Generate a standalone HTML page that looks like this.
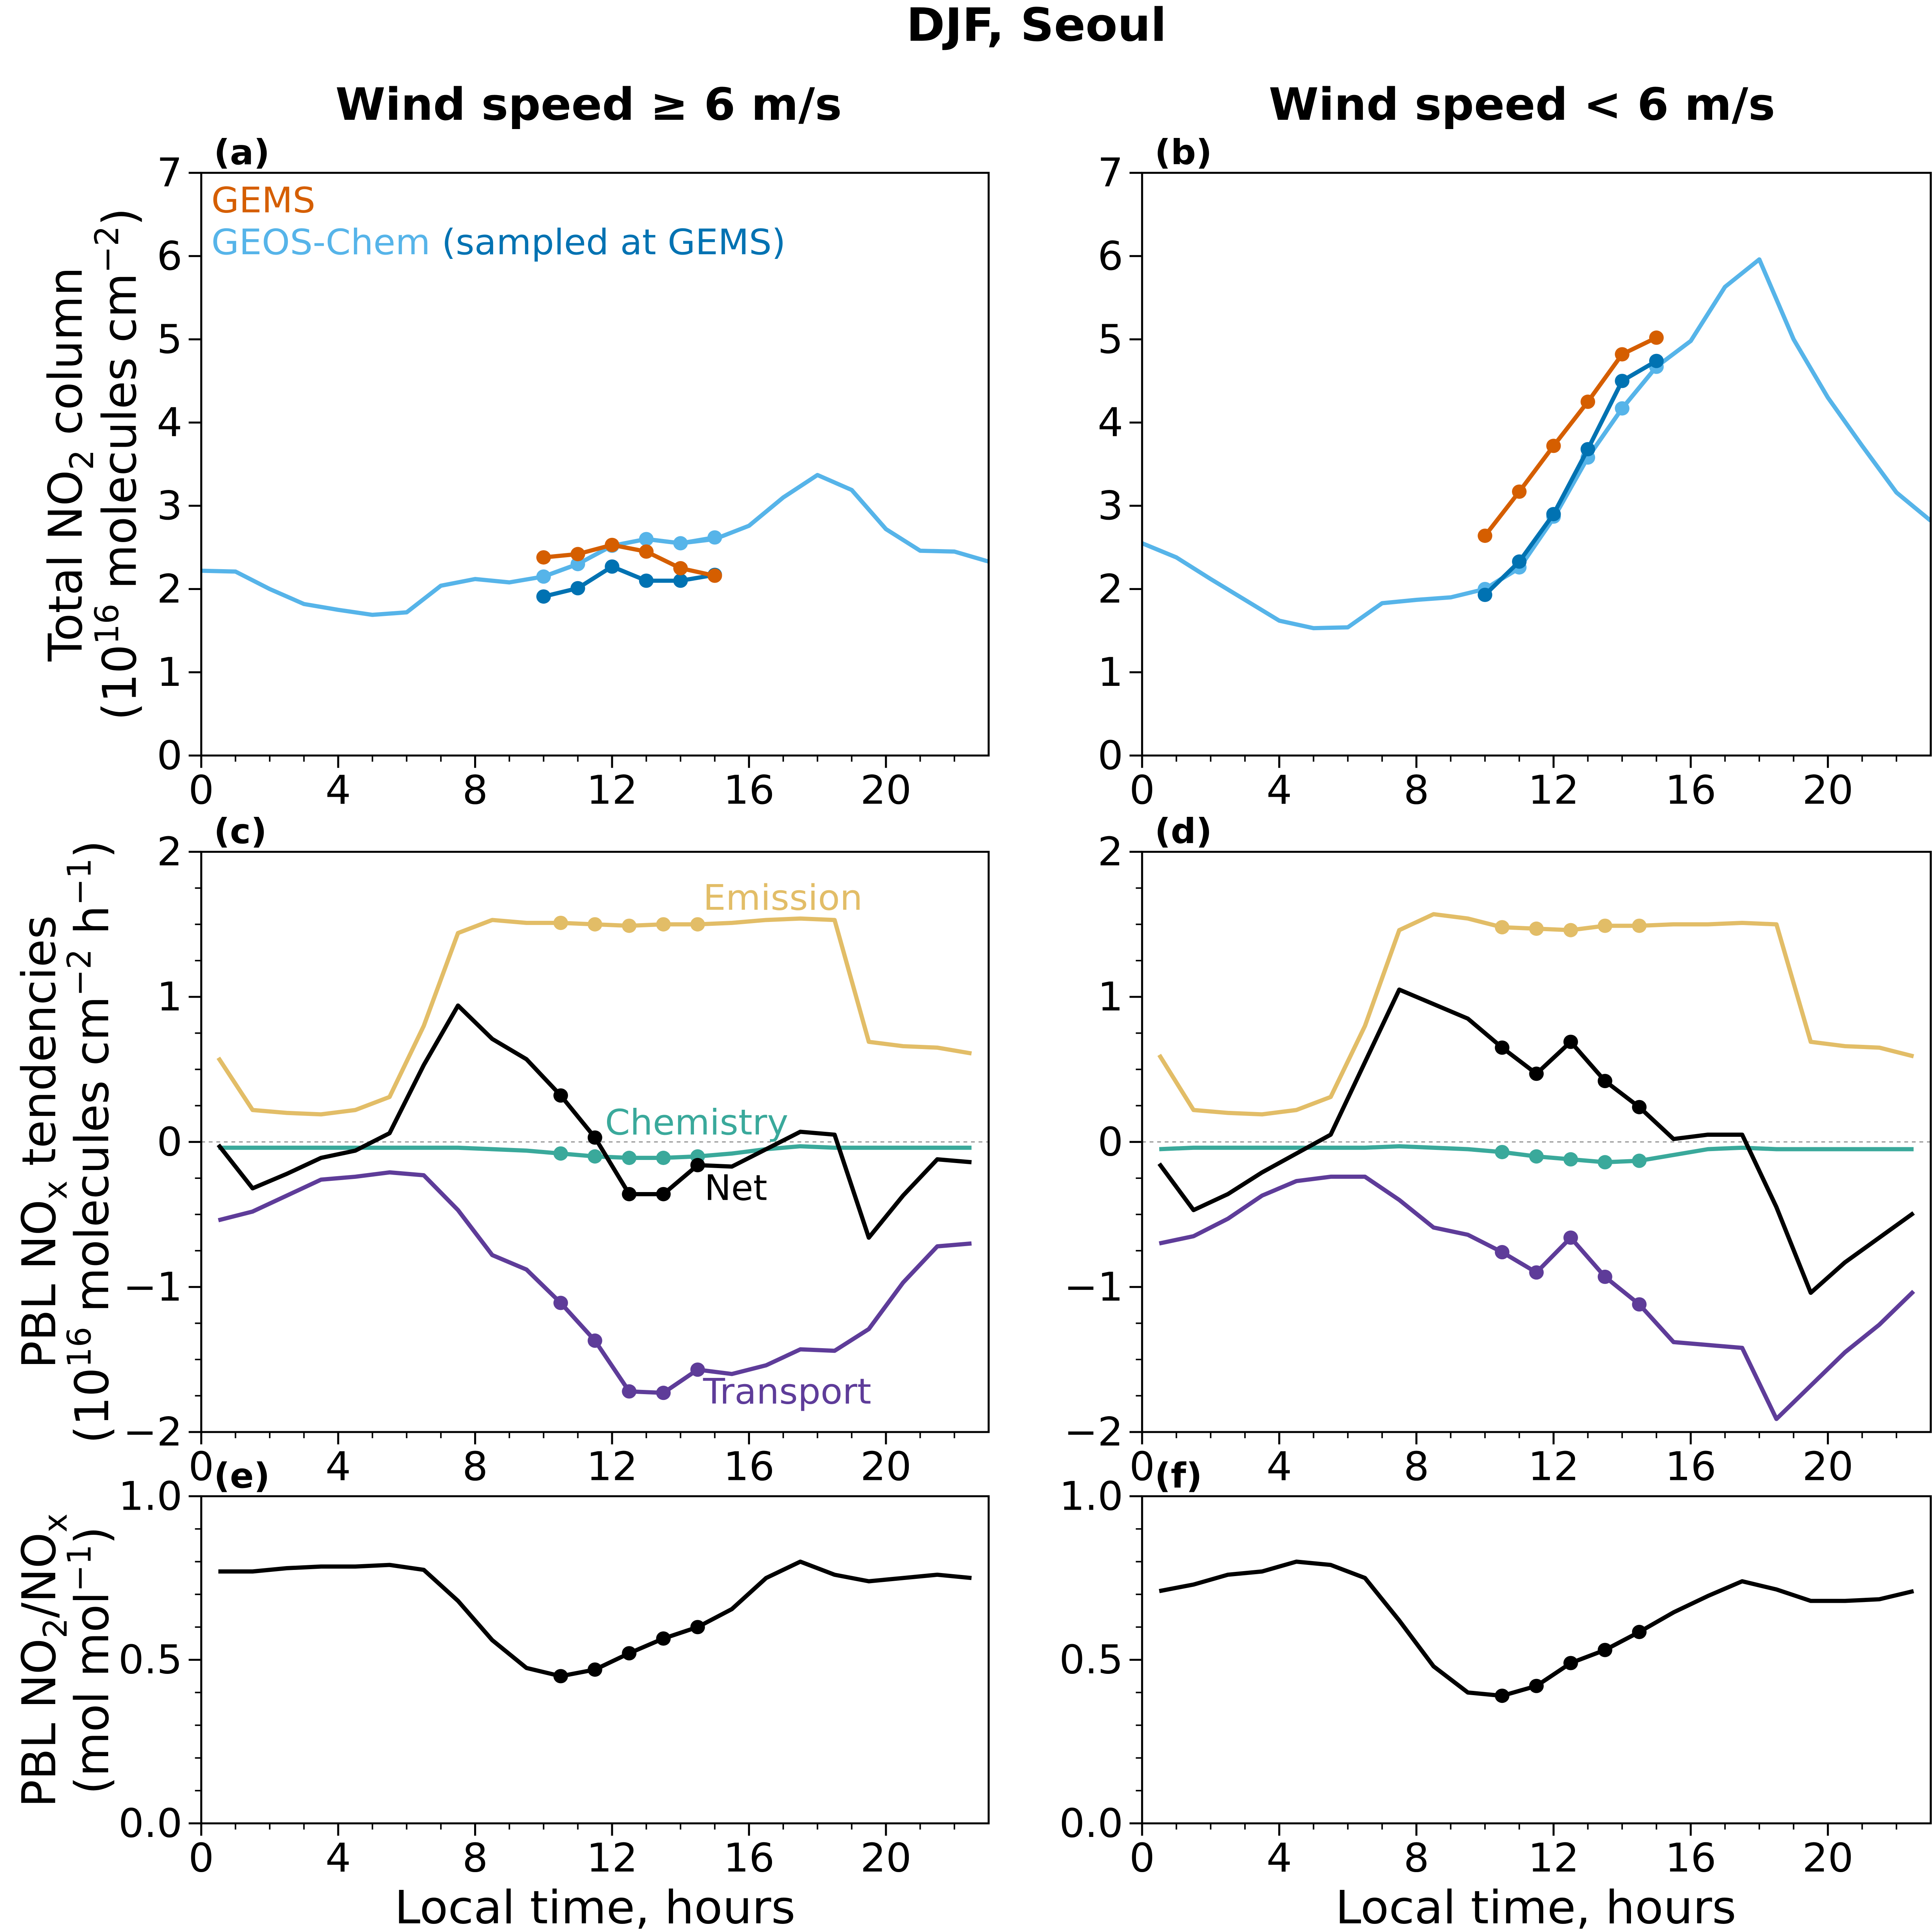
<!DOCTYPE html>
<html><head><meta charset="utf-8"><style>html,body{margin:0;padding:0;background:#fff;width:100vw;height:100vh;overflow:hidden}svg#fig{display:block;position:fixed;left:0;top:0;width:100vw;height:100vh}text{font-family:"DejaVu Sans","Liberation Sans",sans-serif}</style></head>
<body>
<svg id="fig" xmlns="http://www.w3.org/2000/svg" viewBox="0 0 1536 1565" preserveAspectRatio="none">
<rect width="1536" height="1565" fill="#fff"/>
<text x="824" y="33" font-size="37" font-weight="bold" text-anchor="middle">DJF, Seoul</text>
<text x="468" y="97" font-size="36" font-weight="bold" text-anchor="middle">Wind speed ≥ 6 m/s</text>
<text x="1210" y="97" font-size="36" font-weight="bold" text-anchor="middle">Wind speed &lt; 6 m/s</text>
<g id="plots"></g>
<text x="168" y="172" font-size="28.5" fill="#d55e00">GEMS</text>
<text x="168" y="206" font-size="28.5" fill="#56b4e9">GEOS-Chem <tspan fill="#0072b2">(sampled at GEMS)</tspan></text>
<text x="559" y="737" font-size="28.5" fill="#e2bd67">Emission</text>
<text x="481" y="919" font-size="28.5" fill="#3aa99b">Chemistry</text>
<text x="560" y="972" font-size="28.5" fill="#000">Net</text>
<text x="559" y="1137" font-size="28.5" fill="#5e3c99">Transport</text>
<g font-size="37">
<text transform="translate(65,376) rotate(-90)" text-anchor="middle">Total NO<tspan font-size="26" dy="9">2</tspan><tspan dy="-9"> column</tspan></text>
<text transform="translate(108,376) rotate(-90)" text-anchor="middle">(10<tspan font-size="26" dy="-14">16</tspan><tspan dy="14"> molecules cm</tspan><tspan font-size="26" dy="-14">−2</tspan><tspan dy="14">)</tspan></text>
<text transform="translate(44,925) rotate(-90)" text-anchor="middle">PBL NO<tspan font-size="26" dy="9">x</tspan><tspan dy="-9"> tendencies</tspan></text>
<text transform="translate(86,925) rotate(-90)" text-anchor="middle">(10<tspan font-size="26" dy="-14">16</tspan><tspan dy="14"> molecules cm</tspan><tspan font-size="26" dy="-14">−2</tspan><tspan dy="14"> h</tspan><tspan font-size="26" dy="-14">−1</tspan><tspan dy="14">)</tspan></text>
<text transform="translate(44,1345) rotate(-90)" text-anchor="middle">PBL NO<tspan font-size="26" dy="9">2</tspan><tspan dy="-9">/NO</tspan><tspan font-size="26" dy="9">x</tspan></text>
<text transform="translate(86,1345) rotate(-90)" text-anchor="middle">(mol mol<tspan font-size="26" dy="-14">−1</tspan><tspan dy="14">)</tspan></text>
<text x="473" y="1558" text-anchor="middle">Local time, hours</text>
<text x="1221" y="1558" text-anchor="middle">Local time, hours</text>
</g>
</svg>
<script>
const hoursA=[0,1,2,3,4,5,6,7,8,9,10,11,12,13,14,15,16,17,18,19,20,21,22,23];
const hoursS=[10,11,12,13,14,15];
const hoursH=[0.5,1.5,2.5,3.5,4.5,5.5,6.5,7.5,8.5,9.5,10.5,11.5,12.5,13.5,14.5,15.5,16.5,17.5,18.5,19.5,20.5,21.5,22.5];
const dotIdx=[10,11,12,13,14];
const gcA=[2.22,2.21,2.0,1.82,1.75,1.69,1.72,2.04,2.12,2.08,2.15,2.3,2.52,2.6,2.55,2.6,2.76,3.1,3.37,3.19,2.72,2.46,2.45,2.33];
const gcDotsA=[2.15,2.3,2.52,2.6,2.55,2.62];
const gemsA=[2.38,2.42,2.53,2.45,2.25,2.16];
const gcGemsA=[1.91,2.01,2.27,2.1,2.1,2.17];
const gcB=[2.55,2.38,2.12,1.87,1.62,1.53,1.54,1.83,1.87,1.9,2.0,2.25,2.85,3.58,4.17,4.67,4.98,5.63,5.96,5.0,4.3,3.72,3.16,2.82];
const gcDotsB=[2.0,2.26,2.87,3.58,4.17,4.67];
const gemsB=[2.64,3.17,3.72,4.25,4.82,5.02];
const gcGemsB=[1.93,2.33,2.9,3.68,4.5,4.74];
const emisC=[0.58,0.22,0.2,0.19,0.22,0.31,0.8,1.44,1.53,1.51,1.51,1.5,1.49,1.5,1.5,1.51,1.53,1.54,1.53,0.69,0.66,0.65,0.61];
const chemC=[-0.04,-0.04,-0.04,-0.04,-0.04,-0.04,-0.04,-0.04,-0.05,-0.06,-0.08,-0.1,-0.11,-0.11,-0.1,-0.08,-0.05,-0.03,-0.04,-0.04,-0.04,-0.04,-0.04];
const netC=[-0.02,-0.32,-0.22,-0.11,-0.06,0.06,0.53,0.94,0.71,0.57,0.32,0.03,-0.36,-0.36,-0.16,-0.17,-0.05,0.07,0.05,-0.66,-0.37,-0.12,-0.14];
const tranC=[-0.54,-0.48,-0.37,-0.26,-0.24,-0.21,-0.23,-0.47,-0.78,-0.88,-1.11,-1.37,-1.72,-1.73,-1.57,-1.6,-1.54,-1.43,-1.44,-1.29,-0.97,-0.72,-0.7];
const emisD=[0.6,0.22,0.2,0.19,0.22,0.31,0.8,1.46,1.57,1.54,1.48,1.47,1.46,1.49,1.49,1.5,1.5,1.51,1.5,0.69,0.66,0.65,0.59];
const chemD=[-0.05,-0.04,-0.04,-0.04,-0.04,-0.04,-0.04,-0.03,-0.04,-0.05,-0.07,-0.1,-0.12,-0.14,-0.13,-0.09,-0.05,-0.04,-0.05,-0.05,-0.05,-0.05,-0.05];
const netD=[-0.15,-0.47,-0.36,-0.21,-0.08,0.05,0.55,1.05,0.95,0.85,0.65,0.47,0.69,0.42,0.24,0.02,0.05,0.05,-0.45,-1.04,-0.83,-0.66,-0.49];
const tranD=[-0.7,-0.65,-0.53,-0.37,-0.27,-0.24,-0.24,-0.4,-0.59,-0.64,-0.76,-0.9,-0.66,-0.93,-1.12,-1.38,-1.4,-1.42,-1.91,-1.68,-1.45,-1.26,-1.03];
const ratioE=[0.77,0.77,0.78,0.785,0.785,0.79,0.775,0.68,0.56,0.475,0.45,0.47,0.52,0.565,0.6,0.655,0.75,0.8,0.76,0.74,0.75,0.76,0.75];
const ratioF=[0.71,0.73,0.76,0.77,0.8,0.79,0.75,0.62,0.48,0.4,0.39,0.42,0.49,0.53,0.585,0.645,0.695,0.74,0.715,0.68,0.68,0.685,0.71];
const xTicks=[0,4,8,12,16,20];
const yTicksTop=[0,1,2,3,4,5,6,7];
const yTicksMid=[-2,-1,0,1,2];
const yTicksBot=[0,0.5,1.0];

const NS="http://www.w3.org/2000/svg";
const root=document.getElementById('plots');
function mk(tag,attrs,parent){const e=document.createElementNS(NS,tag);for(const k in attrs)e.setAttribute(k,attrs[k]);(parent||root).appendChild(e);return e;}
function panel(name,L,T,R,B,ymin,ymax,yt,ymin2,fmt,letter){
  const g=mk('g',{});
  
  
  const sx=h=>L+(h-0)/(23-0)*(R-L);
  const sy=v=>B-(v-ymin)/(ymax-ymin)*(B-T);
  const ax=mk('g',{},g);
  
  
  for(let h=1;h<23;h++){mk('line',{x1:sx(h),x2:sx(h),y1:B,y2:B+5,stroke:'#000','stroke-width':1.2},ax);}
  xTicks.forEach(h=>{mk('line',{x1:sx(h),x2:sx(h),y1:B,y2:B+10,stroke:'#000','stroke-width':1.6},ax);
    const t=mk('text',{x:sx(h),y:B+39,'font-size':32,'text-anchor':'middle'},ax);t.textContent=h;
    
    });
  for(let v=ymin;v<=ymax+1e-9;v+=ymin2){mk('line',{x1:L-5,x2:L,y1:sy(v),y2:sy(v),stroke:'#000','stroke-width':1.2},ax);}
  yt.forEach(v=>{mk('line',{x1:L-10,x2:L,y1:sy(v),y2:sy(v),stroke:'#000','stroke-width':1.6},ax);
    const t=mk('text',{x:L-15,y:sy(v)+11,'font-size':32,'text-anchor':'end'},ax);t.textContent=fmt(v);
    
    });
  const lt=mk('text',{x:L+10,y:T-7,'font-size':28,'font-weight':'bold'},ax);lt.textContent=letter;
  
  
  const clip='c'+name;const cp=mk('clipPath',{id:clip},g);mk('rect',{x:L,y:T,width:R-L,height:B-T},cp);
  const data=mk('g',{'clip-path':'url(#'+clip+')'},g);
  mk('rect',{x:L,y:T,width:R-L,height:B-T,fill:'none',stroke:'#000','stroke-width':1.6},g);
  return {g:data,sx,sy};
}
function line(p,xs,ys,color,name,dots,dotX,dotY){
  const d=xs.map((x,i)=>(i?'L':'M')+p.sx(x).toFixed(2)+','+p.sy(ys[i]).toFixed(2)).join('');
  const e=mk('path',{d,fill:'none',stroke:color,'stroke-width':3.4,'stroke-linejoin':'round'},p.g);
  
  
  if(dots){dotX.forEach((x,i)=>{const c=mk('circle',{cx:p.sx(x),cy:p.sy(dotY[i]),r:5.8,fill:color},p.g);
    
    });}
}
const fInt=v=>String(v).replace('-','\u2212');
const fR=v=>v.toFixed(1);
const LB='#56b4e9',DB='#0072b2',OR='#d55e00',EM='#e2bd67',CH='#3aa99b',TR='#5e3c99';
let p=panel('panel-a',160,140,786,612,0,7,yTicksTop,1,fInt,'(a)');
line(p,hoursA,gcA,LB,'geos-chem-line-a');
line(p,hoursS,gcDotsA,LB,'geos-chem-sampled-a',true,hoursS,gcDotsA);
line(p,hoursS,gcGemsA,DB,'geos-chem-at-gems-a',true,hoursS,gcGemsA);
line(p,hoursS,gemsA,OR,'gems-a',true,hoursS,gemsA);
p=panel('panel-b',908,140,1535,612,0,7,yTicksTop,1,fInt,'(b)');
line(p,hoursA,gcB,LB,'geos-chem-line-b');
line(p,hoursS,gcDotsB,LB,'geos-chem-sampled-b',true,hoursS,gcDotsB);
line(p,hoursS,gcGemsB,DB,'geos-chem-at-gems-b',true,hoursS,gcGemsB);
line(p,hoursS,gemsB,OR,'gems-b',true,hoursS,gemsB);
function tend(name,L,R,letter,em,ch,ne,tr){
  const q=panel(name,L,690,R,1160,-2,2,yTicksMid,0.25,fInt,letter);
  mk('line',{x1:L,x2:R,y1:q.sy(0),y2:q.sy(0),stroke:'#999','stroke-width':1,'stroke-dasharray':'3,3'},q.g);
  const dx=dotIdx.map(i=>hoursH[i]);
  line(q,hoursH,em,EM,'emission-'+name,true,dx,dotIdx.map(i=>em[i]));
  line(q,hoursH,ch,CH,'chemistry-'+name,true,dx,dotIdx.map(i=>ch[i]));
  line(q,hoursH,tr,TR,'transport-'+name,true,dx,dotIdx.map(i=>tr[i]));
  line(q,hoursH,ne,'#000','net-'+name,true,dx,dotIdx.map(i=>ne[i]));
}
tend('panel-c',160,786,'(c)',emisC,chemC,netC,tranC);
tend('panel-d',908,1535,'(d)',emisD,chemD,netD,tranD);
function ratio(name,L,R,letter,r){
  const q=panel(name,L,1212,R,1477,0,1,yTicksBot,0.1,fR,letter);
  line(q,hoursH,r,'#000','no2-nox-ratio-'+name,true,dotIdx.map(i=>hoursH[i]),dotIdx.map(i=>r[i]));
}
ratio('panel-e',160,786,'(e)',ratioE);
ratio('panel-f',908,1535,'(f)',ratioF);
</script>
</body></html>
